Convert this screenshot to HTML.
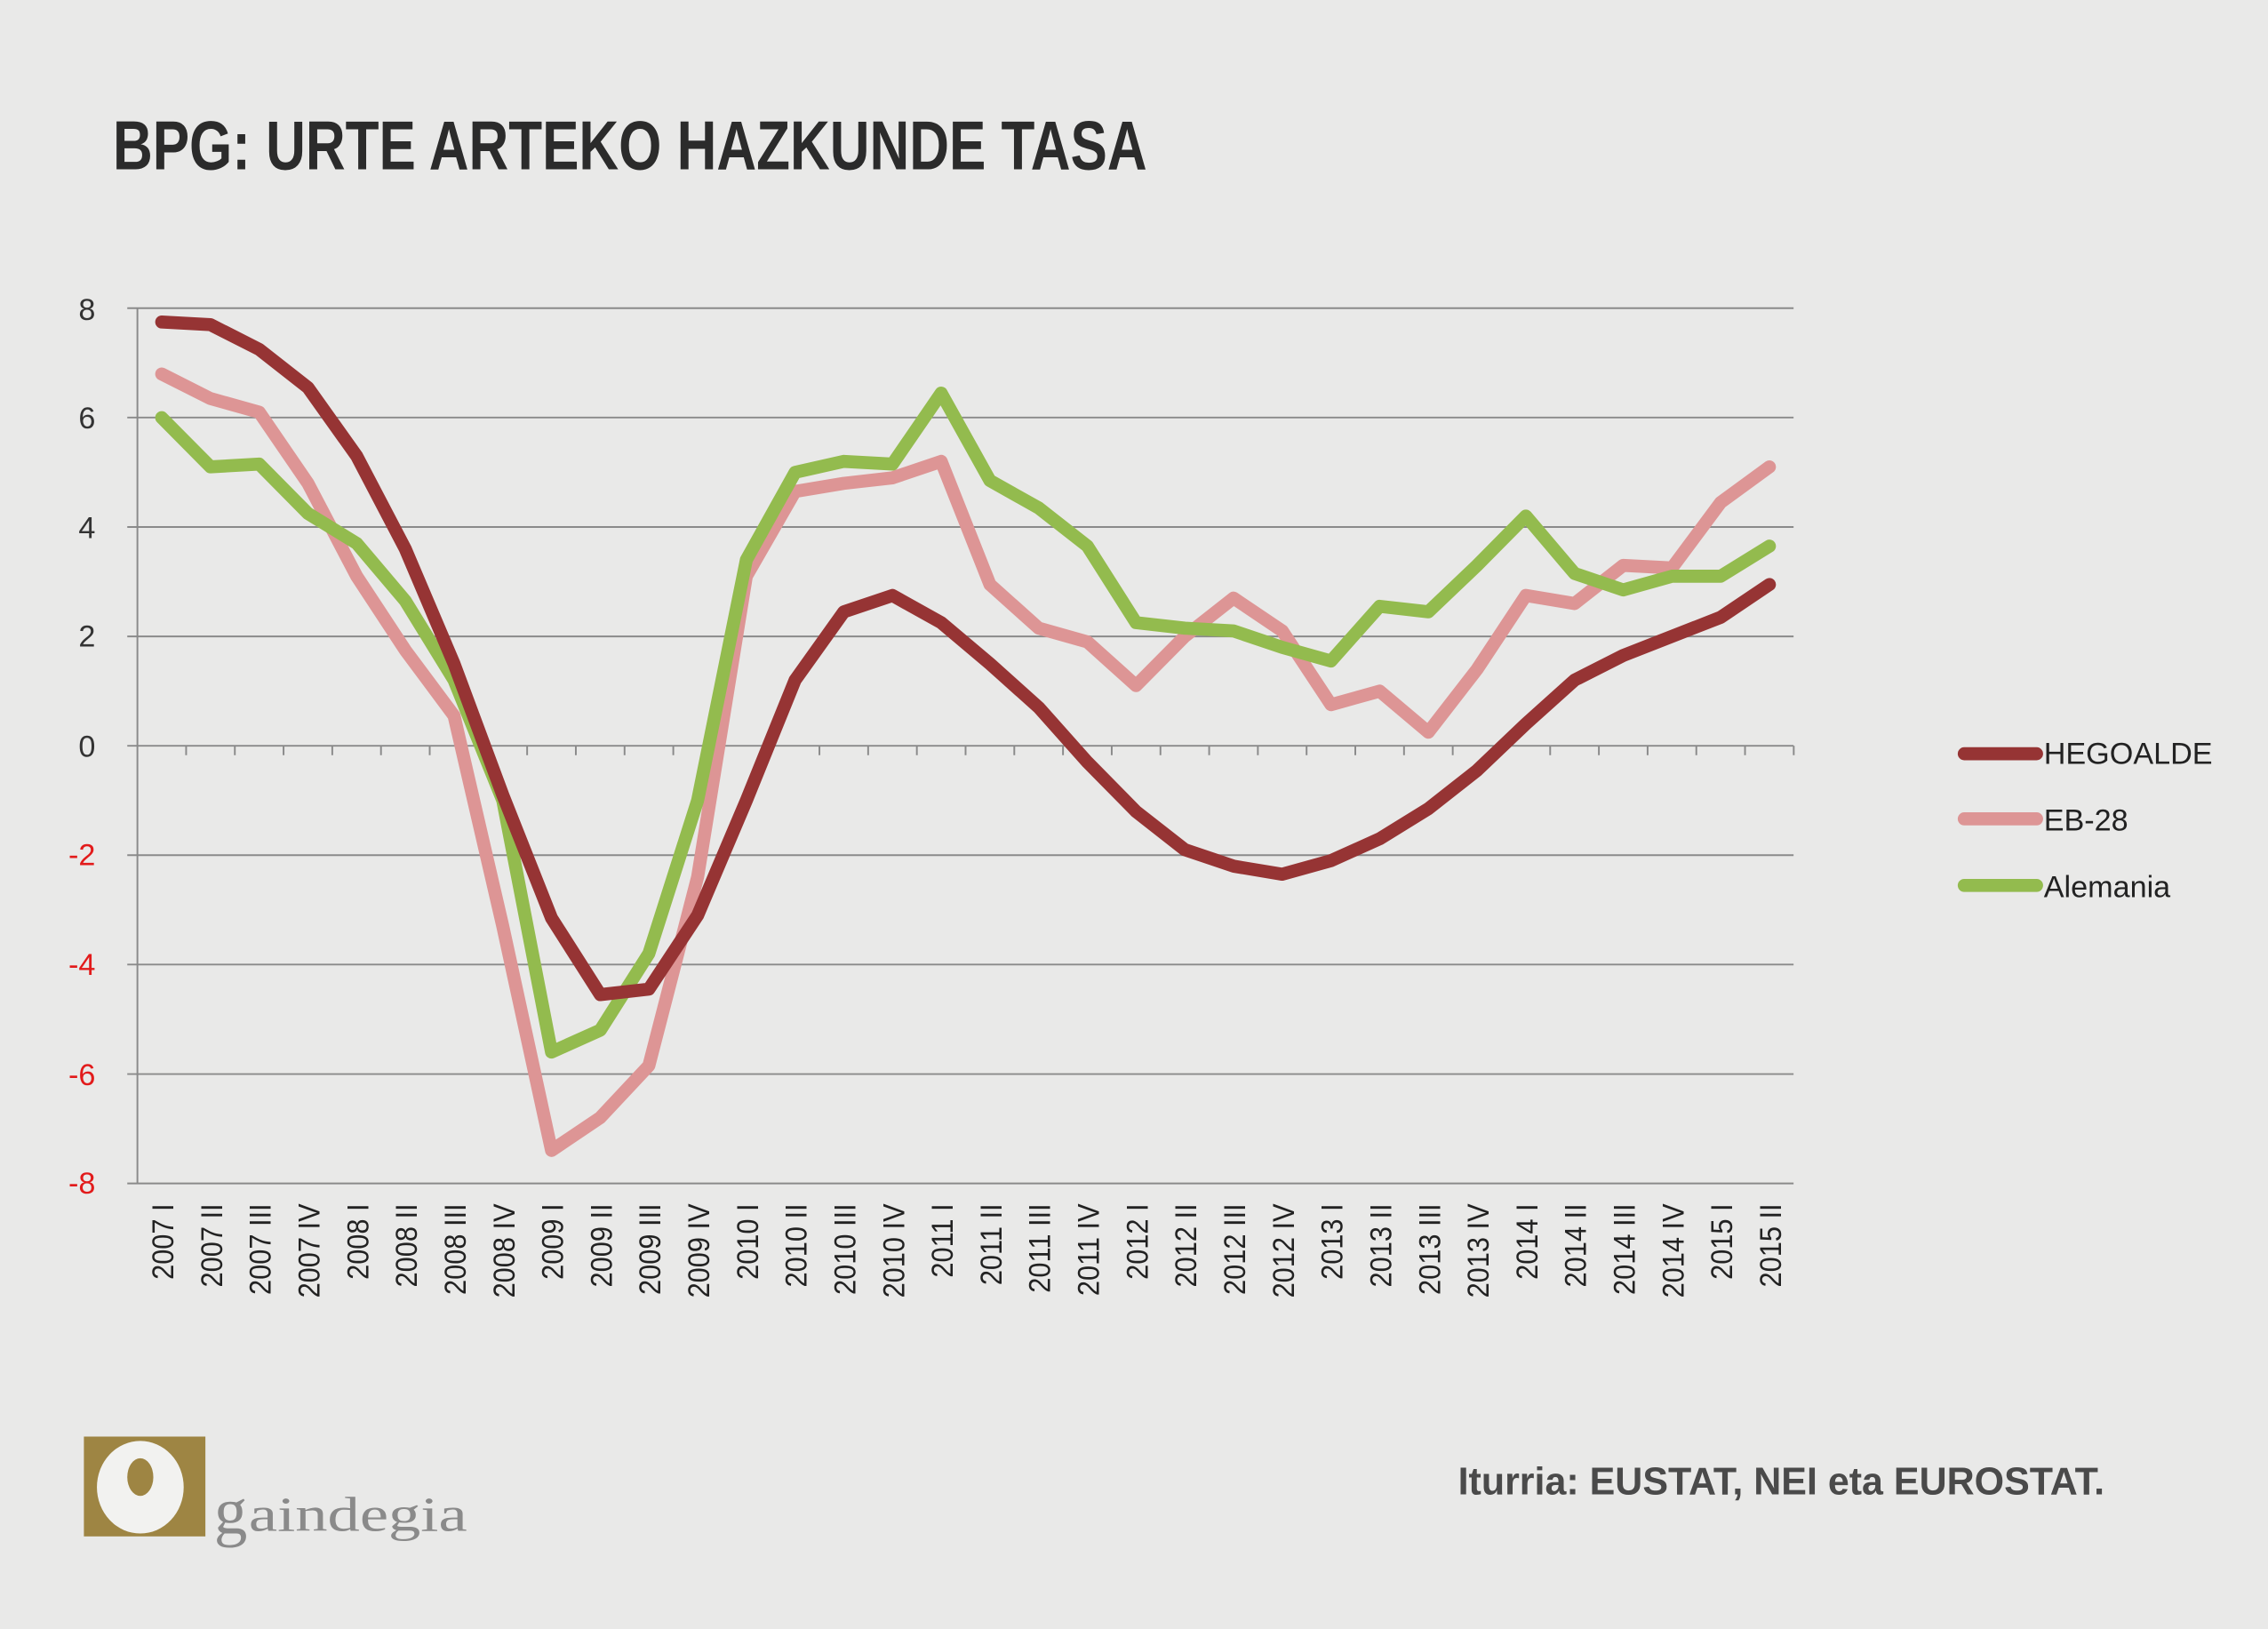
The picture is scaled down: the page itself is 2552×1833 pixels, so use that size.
<!DOCTYPE html>
<html><head><meta charset="utf-8"><style>html,body{margin:0;padding:0;background:#e8e8e8}svg{display:block}</style></head><body>
<svg width="2552" height="1833" viewBox="0 0 1568 1126" preserveAspectRatio="none" xmlns="http://www.w3.org/2000/svg">
<rect width="1568" height="1126" fill="#e9e9e8"/>
<text x="78" y="117" font-family="Liberation Sans, sans-serif" font-weight="bold" font-size="48" fill="#2b2b2b" textLength="715" lengthAdjust="spacingAndGlyphs">BPG: URTE ARTEKO HAZKUNDE TASA</text>
<g stroke="#8a8a8a" stroke-width="1.2">
<line x1="88" y1="213" x2="1240" y2="213"/><line x1="88" y1="288.6" x2="1240" y2="288.6"/>
<line x1="88" y1="364.3" x2="1240" y2="364.3"/><line x1="88" y1="439.9" x2="1240" y2="439.9"/>
<line x1="88" y1="515.5" x2="1240" y2="515.5"/><line x1="88" y1="591.1" x2="1240" y2="591.1"/>
<line x1="88" y1="666.7" x2="1240" y2="666.7"/><line x1="88" y1="742.4" x2="1240" y2="742.4"/>
<line x1="88" y1="818" x2="1240" y2="818"/><line x1="95" y1="213" x2="95" y2="818"/>
</g>
<g id="ticks" stroke="#8a8a8a" stroke-width="1.2"></g>
<g font-family="Liberation Sans, sans-serif" font-size="21" text-anchor="end">
<text x="66" y="221" fill="#333">8</text><text x="66" y="296" fill="#333">6</text><text x="66" y="372" fill="#333">4</text><text x="66" y="447" fill="#333">2</text><text x="66" y="523" fill="#333">0</text>
<text x="66" y="598" fill="#e21b1b">-2</text><text x="66" y="674" fill="#e21b1b">-4</text><text x="66" y="750" fill="#e21b1b">-6</text><text x="66" y="825" fill="#e21b1b">-8</text>
</g>
<g id="xl" font-family="Liberation Sans, sans-serif" font-size="21" fill="#222" text-anchor="end"></g>
<g id="lines" fill="none" stroke-width="9" stroke-linejoin="round" stroke-linecap="round"></g>
<g stroke-width="9" stroke-linecap="round">
<line x1="1358" y1="521" x2="1408" y2="521" stroke="#963434"/>
<line x1="1358" y1="566" x2="1408" y2="566" stroke="#dd9595"/>
<line x1="1358" y1="612" x2="1408" y2="612" stroke="#93bb4e"/>
</g>
<g font-family="Liberation Sans, sans-serif" font-size="21" fill="#222">
<text x="1413" y="528">HEGOALDE</text><text x="1413" y="574">EB-28</text><text x="1413" y="620">Alemania</text>
</g>
<text x="1008" y="1033" font-family="Liberation Sans, sans-serif" font-weight="bold" font-size="27" fill="#4a4a4a" textLength="447" lengthAdjust="spacingAndGlyphs">Iturria: EUSTAT, NEI eta EUROSTAT.</text>
<rect x="58" y="993" width="84" height="69" fill="#9e8543"/>
<ellipse cx="97" cy="1028" rx="30" ry="32" fill="#f2f2f0"/>
<ellipse cx="97" cy="1021" rx="9" ry="13" fill="#9e8543"/>
<text x="148" y="1060" font-family="Liberation Serif, serif" font-size="46" fill="#8a8a8a">g</text>
<text x="172" y="1058" font-family="Liberation Serif, serif" font-size="34" fill="#8a8a8a" textLength="151" lengthAdjust="spacingAndGlyphs">aindegia</text>
</svg>
<script>
const s=33.68,x0=95;
const X=i=>x0+s*(i+0.5),Y=v=>515.5-v*37.8;
const labels=[];const R=["I","II","III","IV"];
for(let y=2007;y<=2015;y++)for(let q=0;q<4;q++){if(labels.length<34)labels.push(y+" "+R[q]);}
let t="",xl="";
for(let i=1;i<=34;i++){const x=x0+s*i;t+=`<line x1="${x}" y1="515.5" x2="${x}" y2="522"/>`;}
labels.forEach((l,i)=>{const x=X(i)+8;xl+=`<text transform="translate(${x},832) rotate(-90) scale(0.9,1)">${l}</text>`;});
document.getElementById("ticks").innerHTML=t;document.getElementById("xl").innerHTML=xl;
const D=[["#dd9595",[6.8,6.35,6.1,4.8,3.1,1.75,0.55,-3.3,-7.4,-6.8,-5.85,-2.4,3.1,4.65,4.8,4.9,5.2,2.95,2.15,1.9,1.1,2.0,2.7,2.1,0.75,1.0,0.25,1.4,2.75,2.6,3.3,3.25,4.45,5.1]],
["#93bb4e",[6.0,5.1,5.15,4.25,3.7,2.65,1.2,-1.0,-5.6,-5.2,-3.8,-1.0,3.4,5.0,5.2,5.15,6.45,4.85,4.35,3.65,2.25,2.15,2.1,1.8,1.55,2.55,2.45,3.3,4.2,3.15,2.85,3.1,3.1,3.65]],
["#963434",[7.75,7.7,7.25,6.55,5.3,3.6,1.5,-0.9,-3.15,-4.55,-4.45,-3.1,-1.0,1.2,2.45,2.75,2.25,1.5,0.7,-0.3,-1.2,-1.9,-2.2,-2.35,-2.1,-1.7,-1.15,-0.45,0.4,1.2,1.65,2.0,2.35,2.95]]];
let p="";D.forEach(([c,v])=>{p+=`<polyline stroke="${c}" points="${v.map((a,i)=>X(i).toFixed(1)+","+Y(a).toFixed(1)).join(" ")}"/>`;});
document.getElementById("lines").innerHTML=p;
</script>
</body></html>
